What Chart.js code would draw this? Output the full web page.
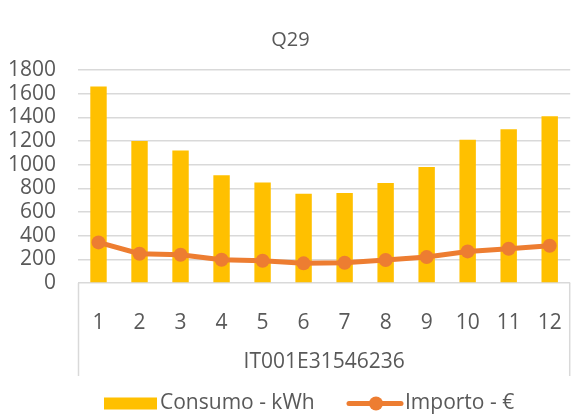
<!DOCTYPE html>
<html>
<head>
<meta charset="utf-8">
<script src="https://cdn.jsdelivr.net/npm/chart.js@4"></script>
<style>
  html, body { margin: 0; padding: 0; background: #fff; }
</style>
</head>
<body>
<canvas id="grafico" width="581" height="417"></canvas>
<script>
  // dati
  const mesi = ["1", "2", "3", "4", "5", "6", "7", "8", "9", "10", "11", "12"];
  const consumo = [1660, 1200, 1120, 910, 850, 755, 760, 845, 980, 1210, 1300, 1410];
  const importo = [343, 247, 239, 197, 188, 166, 171, 194, 219, 267, 289, 315];
  const tickY = [0, 200, 400, 600, 800, 1000, 1200, 1400, 1600, 1800];
  const nomeSerie = ["Consumo - kWh", "Importo - €"];
  const titolo = "Q29";
  const gruppo = "IT001E31546236";

  const grigio = "#595959";
  const font = "'Open Sans', Lato, sans-serif";

  // linee verticali del riquadro della categoria
  const riquadro = {
    id: "riquadro",
    afterDraw(chart) {
      let ctx = chart.ctx;
      let x = chart.scales.x;
      ctx.save();
      ctx.strokeStyle = "#d9d9d9";
      ctx.lineWidth = 1.5;
      ctx.beginPath();
      ctx.moveTo(chart.chartArea.left + 0.5, chart.chartArea.bottom);
      ctx.lineTo(chart.chartArea.left + 0.5, x.bottom);
      ctx.moveTo(chart.chartArea.right - 0.5, chart.chartArea.bottom);
      ctx.lineTo(chart.chartArea.right - 0.5, x.bottom);
      ctx.stroke();
      ctx.restore();
    }
  };

  // legenda disegnata a mano (barra + linea con punto)
  const legenda = {
    id: "legenda",
    afterDraw(chart) {
      let ctx = chart.ctx;
      let ds = chart.data.datasets;
      let y = 403.5;
      ctx.save();
      ctx.font = "21px " + font;
      ctx.textBaseline = "middle";

      ctx.fillStyle = ds[1].backgroundColor;
      ctx.fillRect(104, y - 6, 53, 12);
      ctx.fillStyle = grigio;
      ctx.fillText(ds[1].label, 160, y);

      ctx.strokeStyle = ds[0].borderColor;
      ctx.lineWidth = 5;
      ctx.lineCap = "round";
      ctx.beginPath();
      ctx.moveTo(349, y);
      ctx.lineTo(401, y);
      ctx.stroke();
      ctx.fillStyle = ds[0].borderColor;
      ctx.beginPath();
      ctx.arc(376, y, 7, 0, Math.PI * 2);
      ctx.fill();
      ctx.fillStyle = grigio;
      ctx.fillText(ds[0].label, 405, y);
      ctx.restore();
    }
  };

  let ctx1 = document.getElementById("grafico").getContext("2d");
  let grafico = new Chart(ctx1, {
    data: {
      labels: mesi,
      datasets: [
        {
          type: "line",
          label: nomeSerie[1],
          data: importo,
          borderColor: "#ED7D31",
          backgroundColor: "#ED7D31",
          borderWidth: 5,
          pointRadius: 7,
          pointBorderWidth: 0,
          pointBackgroundColor: "#ED7D31",
          tension: 0,
          order: 0
        },
        {
          type: "bar",
          label: nomeSerie[0],
          data: consumo,
          backgroundColor: "#FFC000",
          categoryPercentage: 1,
          barPercentage: 0.4,
          order: 1
        }
      ]
    },
    options: {
      responsive: false,
      animation: false,
      devicePixelRatio: 1,
      layout: { padding: { left: 0, right: 0, top: 0, bottom: 41 } },
      plugins: {
        legend: { display: false },
        tooltip: { enabled: false },
        title: {
          display: true,
          text: titolo,
          color: grigio,
          font: { family: font, size: 20, weight: "normal" },
          padding: { top: 28, bottom: 18 }
        }
      },
      scales: {
        x: {
          offset: true,
          grid: { display: false },
          border: { display: false },
          ticks: {
            color: grigio,
            font: { family: font, size: 21 },
            padding: 19,
            maxRotation: 0,
            autoSkip: false
          },
          title: {
            display: true,
            text: gruppo,
            color: grigio,
            font: { family: font, size: 21 },
            padding: { top: 0, bottom: 1.5 }
          },
          afterFit(scale) { scale.height = 93; }
        },
        y: {
          min: 0,
          max: 1800,
          afterBuildTicks(scale) { scale.ticks = tickY.map(v => ({ value: v })); },
          grid: { color: "#d9d9d9", lineWidth: 1.5, drawTicks: false },
          border: { display: false },
          ticks: {
            color: grigio,
            font: { family: font, size: 21 },
            padding: 22,
            autoSkip: false,
            callback: v => String(v)
          },
          afterFit(scale) { scale.width = 78; }
        }
      }
    },
    plugins: [riquadro, legenda]
  });
</script>
</body>
</html>
